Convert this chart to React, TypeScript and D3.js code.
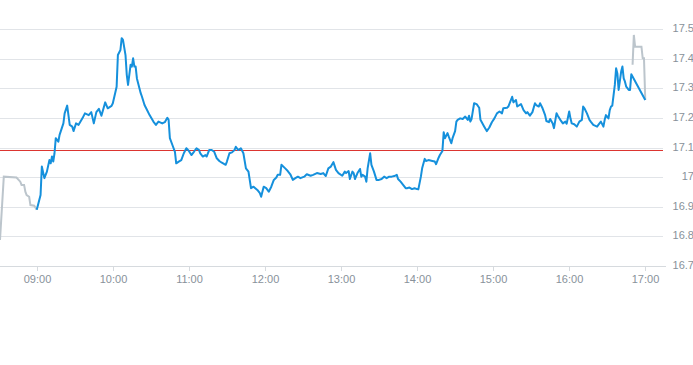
import React from "react";
import * as d3 from "d3";

// minutes since midnight + price
const preTimes = [511, 514, 524, 527, 528, 530, 531, 532, 534, 535, 538, 540];
const prePrices = [16.788, 17.002, 16.999, 16.985, 16.974, 16.974, 16.951, 16.94, 16.934, 16.906, 16.904, 16.89];

const dayTimes = [
  540, 543, 544, 546, 548, 550, 551, 552, 553, 554, 555, 557, 558, 561, 562, 564, 566, 568, 569, 571,
  573, 576, 578, 581, 583, 585, 587, 589, 591, 594, 596, 599, 600, 603, 604, 606, 607, 608, 610, 611,
  612, 614, 615, 616, 617, 618, 619, 622, 623, 625, 627, 629, 632, 634, 636, 639, 641, 643, 644, 645,
  647, 649, 650, 652, 654, 656, 658, 660, 662, 664, 666, 668, 669, 671, 673, 674, 676, 678, 680, 682,
  684, 686, 689, 690, 692, 694, 696, 697, 699, 701, 703, 705, 707, 709, 711, 714, 716, 717, 719, 721,
  723, 725, 727, 729, 730, 732, 733, 736, 738, 740, 742, 744, 746, 748, 751, 753, 756, 758, 761, 764,
  766, 768, 770, 772, 774, 776, 778, 781, 783, 784, 786, 787, 789, 790, 791, 793, 795, 796, 797, 799,
  800, 801, 803, 804, 806, 808, 810, 812, 814, 816, 818, 820, 822, 824, 825, 827, 829, 831, 832, 834,
  836, 838, 840, 841, 843, 844, 846, 847, 849, 852, 854, 855, 857, 858, 860, 861, 862, 864, 865, 867,
  868, 870, 871, 872, 874, 876, 878, 880, 881, 882, 883, 885, 887, 889, 890, 893, 895, 897, 899, 901,
  903, 905, 907, 908, 911, 912, 914, 915, 916, 918, 919, 922, 924, 926, 927, 929, 931, 933, 934, 936,
  937, 939, 941, 942, 944, 945, 947, 948, 950, 951, 953, 955, 957, 958, 960, 961, 962, 964, 966, 968,
  970, 971, 972, 974, 976, 977, 979, 982, 983, 985, 987, 988, 989, 991, 992, 993, 994, 996, 997, 998,
  999, 1001, 1002, 1003, 1004, 1005, 1007, 1008, 1009, 1020,
];
const dayPrices = [
  16.89, 16.94, 17.036, 16.997, 17.019, 17.058, 17.047, 17.07, 17.053, 17.081, 17.132, 17.12, 17.143, 17.182, 17.216, 17.242, 17.177, 17.171, 17.156, 17.182,
  17.177, 17.199, 17.216, 17.21, 17.22, 17.182, 17.22, 17.231, 17.208, 17.253, 17.233, 17.241, 17.25, 17.306, 17.413, 17.43, 17.47, 17.464, 17.413, 17.346,
  17.312, 17.38, 17.374, 17.402, 17.374, 17.374, 17.334, 17.284, 17.272, 17.244, 17.227, 17.21, 17.188, 17.177, 17.188, 17.182, 17.186, 17.201, 17.194, 17.132,
  17.109, 17.086, 17.047, 17.053, 17.058, 17.081, 17.098, 17.089, 17.075, 17.086, 17.098, 17.092, 17.081, 17.07, 17.075, 17.07, 17.092, 17.092, 17.086, 17.064,
  17.055, 17.049, 17.042, 17.053, 17.081, 17.084, 17.092, 17.103, 17.092, 17.098, 17.081, 17.03, 17.019, 16.963, 16.968, 16.957, 16.946, 16.934, 16.968, 16.963,
  16.951, 16.968, 16.991, 16.999, 17.008, 17.008, 17.042, 17.03, 17.021, 17.01, 16.991, 16.997, 17.002, 16.997, 17.002, 17.01, 17.005, 17.008, 17.014, 17.011,
  17.014, 17.004, 17.03, 17.036, 17.051, 17.025, 17.014, 17.005, 17.019, 17.014, 17.021, 16.994, 17.019, 17.014, 16.994, 17.014, 17.028, 17.002, 17.008, 17.002,
  16.985, 17.03, 17.081, 17.042, 17.019, 16.991, 16.991, 16.994, 17.002, 16.997, 17.002, 17.002, 17.004, 17.008, 16.994, 16.985, 16.974, 16.963, 16.963, 16.965,
  16.96, 16.963, 16.96, 16.959, 17.002, 17.03, 17.062, 17.055, 17.058, 17.055, 17.053, 17.044, 17.066, 17.075, 17.089, 17.152, 17.132, 17.149, 17.137, 17.115,
  17.132, 17.156, 17.188, 17.194, 17.199, 17.197, 17.205, 17.194, 17.208, 17.188, 17.197, 17.25, 17.247, 17.235, 17.194, 17.171, 17.156, 17.168, 17.186, 17.199,
  17.216, 17.222, 17.216, 17.233, 17.235, 17.239, 17.261, 17.272, 17.253, 17.261, 17.239, 17.247, 17.227, 17.216, 17.22, 17.208, 17.22, 17.25, 17.244, 17.239,
  17.25, 17.233, 17.21, 17.19, 17.186, 17.197, 17.182, 17.166, 17.216, 17.208, 17.194, 17.182, 17.188, 17.181, 17.222, 17.199, 17.182, 17.179, 17.171, 17.188,
  17.194, 17.239, 17.233, 17.216, 17.194, 17.188, 17.177, 17.171, 17.177, 17.188, 17.171, 17.194, 17.21, 17.199, 17.227, 17.239, 17.242, 17.312, 17.368, 17.351,
  17.295, 17.357, 17.374, 17.334, 17.323, 17.306, 17.295, 17.295, 17.348, 17.261,
];

const postTimes = [1010, 1011, 1012, 1017, 1018, 1019, 1020];
const postPrices = [17.38, 17.481, 17.441, 17.441, 17.402, 17.402, 17.261];

const prevClose = 17.092;
const yTicks = [16.7, 16.8, 16.9, 17, 17.1, 17.2, 17.3, 17.4, 17.5];
const xTickTimes = [540, 600, 660, 720, 780, 840, 900, 960, 1020];

const W = 693;
const H = 365;
const plotW = 663;
const top = 29.3;
const bottom = 266;

const toDate = (m: number) => new Date(2024, 0, 2, Math.floor(m / 60), m % 60);

const zip = (t: number[], p: number[]) => t.map((m, i) => ({ t: toDate(m), v: p[i] }));

export default function App() {
  const x = d3.scaleTime().domain([toDate(511), toDate(1034.4)]).range([0, plotW]);
  const y = d3.scaleLinear().domain([16.7, 17.5]).range([bottom, top]);
  const crisp = (v: number) => Math.round(v) + 0.5;

  const line = d3
    .line<{ t: Date; v: number }>()
    .x((d) => x(d.t))
    .y((d) => y(d.v));

  const fmtTime = d3.timeFormat("%H:%M");
  const font = "'Liberation Sans', Arial, sans-serif";

  return (
    <div style={{ position: "absolute", left: 0, top: 0 }}>
      <svg width={W} height={H} style={{ display: "block", background: "#fff" }}>
        {yTicks.map((v) => (
          <g key={v}>
            <line x1={0} x2={plotW} y1={crisp(y(v))} y2={crisp(y(v))} stroke="#e1e4e8" strokeWidth={1} />
            <text
              x={694}
              y={y(v)}
              textAnchor="end"
              dominantBaseline="middle"
              fontFamily={font}
              fontSize={11}
              fill="#88919a"
            >
              {+v.toFixed(1)}
            </text>
          </g>
        ))}
        <line x1={0} x2={plotW + 3} y1={crisp(bottom)} y2={crisp(bottom)} stroke="#d6dade" strokeWidth={1} />
        {xTickTimes.map((m) => (
          <g key={m} transform={`translate(${crisp(x(toDate(m)))},0)`}>
            <line y1={bottom} y2={bottom + 5} stroke="#d6dade" />
            <text
              y={bottom + 14}
              textAnchor="middle"
              dominantBaseline="middle"
              fontFamily={font}
              fontSize={11}
              fill="#88919a"
            >
              {fmtTime(toDate(m))}
            </text>
          </g>
        ))}
        <line
          x1={0}
          x2={plotW}
          y1={crisp(y(prevClose))}
          y2={crisp(y(prevClose))}
          stroke="#dc3530"
          strokeWidth={1}
        />
        <path d={line(zip(preTimes, prePrices)) || ""} fill="none" stroke="#bcc5cc" strokeWidth={2} />
        <path d={line(zip(postTimes, postPrices)) || ""} fill="none" stroke="#bcc5cc" strokeWidth={2} />
        <path
          d={line(zip(dayTimes, dayPrices)) || ""}
          fill="none"
          stroke="#1590dc"
          strokeWidth={2}
          strokeLinejoin="round"
        />
      </svg>
    </div>
  );
}
